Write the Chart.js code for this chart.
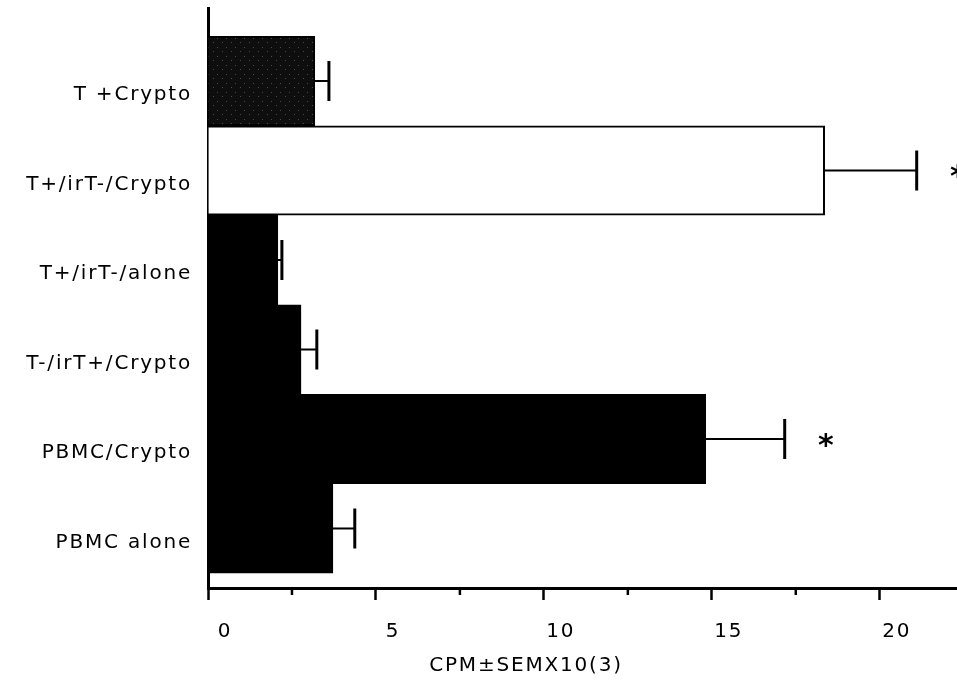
<!DOCTYPE html>
<html>
<head>
<meta charset="utf-8">
<script src="https://cdn.jsdelivr.net/npm/chart.js@4"></script>
<style>body{margin:0;background:#fff}</style>
</head>
<body>
<canvas id="barChart" width="957" height="682"></canvas>
<script>
const categories = ['T +Crypto', 'T+/irT-/Crypto', 'T+/irT-/alone', 'T-/irT+/Crypto', 'PBMC/Crypto', 'PBMC alone'];
const means = [3.18, 18.36, 2.08, 2.77, 14.82, 3.72];
const sems = [0.42, 2.74, 0.12, 0.47, 2.35, 0.65];
const starred = [false, true, false, false, true, false];
const xTicks = [0, 5, 10, 15, 20];
const axisTitle = 'CPM±SEMX10(3)';

const barChart = document.getElementById('barChart');
const ctx = barChart.getContext('2d');
const font = 'DejaVu Sans';

// speckled near-black fill for the first bar
const speck = document.createElement('canvas');
speck.width = 9; speck.height = 9;
const sctx = speck.getContext('2d');
sctx.fillStyle = '#0e0e0e'; sctx.fillRect(0, 0, 9, 9);
sctx.fillStyle = '#4a4a4a'; sctx.fillRect(1, 2, 1, 1); sctx.fillRect(6, 6, 1, 1);
const speckFill = ctx.createPattern(speck, 'repeat');

const fills = [speckFill, '#ffffff', '#000000', '#000000', '#000000', '#000000'];

const spacing = {
  id: 'spacing',
  beforeDraw(chart) { chart.ctx.letterSpacing = '1.8px'; }
};

const errorBars = {
  id: 'errorBars',
  afterDatasetsDraw(chart) {
    const c = chart.ctx, xs = chart.scales.x;
    const meta = chart.getDatasetMeta(0);
    c.save();
    c.strokeStyle = '#000';
    c.fillStyle = '#000';
    meta.data.forEach((bar, i) => {
      const x0 = xs.getPixelForValue(means[i]);
      const x1 = xs.getPixelForValue(means[i] + sems[i]);
      const y = bar.y;
      c.lineWidth = 2;
      c.beginPath(); c.moveTo(x0, y); c.lineTo(x1, y); c.stroke();
      c.lineWidth = 3;
      c.beginPath(); c.moveTo(x1, y - 20); c.lineTo(x1, y + 20); c.stroke();
      if (starred[i]) {
        c.font = 'bold 30px ' + font;
        c.textAlign = 'center';
        c.textBaseline = 'middle';
        c.fillText('*', xs.getPixelForValue(means[i] + sems[i] + 1.25), y + 8);
      }
    });
    // minor ticks on x axis
    c.lineWidth = 2.5;
    const yb = chart.chartArea.bottom;
    for (let v = 2.5; v < xs.max; v += 5) {
      const px = xs.getPixelForValue(v);
      c.beginPath(); c.moveTo(px, yb); c.lineTo(px, yb + 7); c.stroke();
    }
    // axis title
    c.font = '20px ' + font;
    c.textAlign = 'center';
    c.textBaseline = 'middle';
    c.fillText(axisTitle, chart.chartArea.left + 318, 666);
    c.restore();
  }
};

function noPad(scale) {
  scale.paddingTop = 0; scale.paddingBottom = 0;
  scale.paddingLeft = 0; scale.paddingRight = 0;
}

new Chart(barChart, {
  type: 'bar',
  data: {
    datasets: [{
      data: means.map((v, i) => ({ x: v, y: i })),
      backgroundColor: fills,
      borderColor: '#000',
      borderWidth: 2,
      barPercentage: 1,
      categoryPercentage: 1
    }]
  },
  options: {
    indexAxis: 'y',
    responsive: false,
    animation: false,
    layout: { padding: { top: 8, left: 0, right: 0, bottom: 0 } },
    plugins: { legend: { display: false }, tooltip: { enabled: false } },
    scales: {
      x: {
        type: 'linear',
        min: 0,
        max: 22.3,
        afterFit(scale) { scale.height = 94; noPad(scale); },
        grid: {
          drawOnChartArea: false,
          tickLength: 12,
          tickWidth: 2.5,
          tickColor: c => xTicks.includes(c.tick.value) ? '#000' : 'rgba(0,0,0,0)'
        },
        border: { display: true, color: '#000', width: 3 },
        ticks: {
          stepSize: 5,
          autoSkip: false,
          maxRotation: 0,
          padding: 20,
          labelOffset: 17,
          color: '#000',
          font: { family: font, size: 20 },
          callback: v => xTicks.includes(v) ? String(v) : ''
        }
      },
      y: {
        type: 'linear',
        reverse: true,
        offset: false,
        min: -0.816,
        max: 5.665,
        afterBuildTicks(scale) { scale.ticks = scale.ticks.filter(t => Number.isInteger(t.value)); },
        afterFit(scale) { scale.width = 208; noPad(scale); },
        grid: { display: false, drawTicks: false },
        border: { display: true, color: '#000', width: 3 },
        ticks: {
          stepSize: 1,
          autoSkip: false,
          padding: 16,
          labelOffset: 14,
          color: '#000',
          font: { family: font, size: 20 },
          callback: v => categories[v] || ''
        }
      }
    }
  },
  plugins: [spacing, errorBars]
});
</script>
</body>
</html>
